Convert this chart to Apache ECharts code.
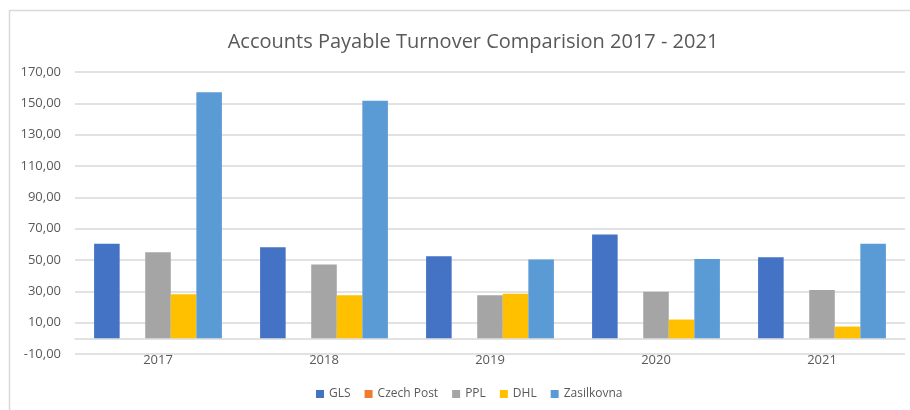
<!DOCTYPE html>
<html>
<head>
<meta charset="utf-8">
<script src="https://cdn.jsdelivr.net/npm/echarts@6/dist/echarts.min.js"></script>
<style>
  html, body { margin: 0; padding: 0; background: #fff; }
  #chart { width: 910px; height: 410px; }
</style>
</head>
<body>
<div id="chart"></div>
<script>
// data
const years = ['2017', '2018', '2019', '2020', '2021']
const gls = [60.3, 58.2, 52.4, 66.2, 51.8]
const czechPost = [0, 0, 0, 0, 0]
const ppl = [55.0, 47.1, 27.5, 29.8, 30.9]
const dhl = [28.2, 27.5, 28.4, 12.0, 7.5]
const zasilkovna = [157.0, 151.7, 50.3, 50.7, 60.3]

const seriesNames = ['GLS', 'Czech Post', 'PPL', 'DHL', 'Zasilkovna']
const seriesData = [gls, czechPost, ppl, dhl, zasilkovna]
const colors = ['#4472C4', '#ED7D31', '#A5A5A5', '#FFC000', '#5B9BD5']

const textColor = '#595959'
const fontFamily = '"Open Sans", "Liberation Sans", sans-serif'

const chart = echarts.init(document.getElementById('chart'))

const option = {
  animation: false,
  color: colors,
  textStyle: { fontFamily: fontFamily },
  title: {
    text: 'Accounts Payable Turnover Comparision 2017 - 2021',
    left: 468,
    top: 27,
    textAlign: 'center',
    textStyle: { fontSize: 20, fontWeight: 'normal', color: textColor, fontFamily: fontFamily }
  },
  // chart area border (only top/left edges are in view)
  graphic: [
    {
      type: 'rect',
      shape: { x: 9.5, y: 10.5, width: 920, height: 420 },
      style: { fill: 'none', stroke: '#d9d9d9', lineWidth: 1.5 },
      silent: true
    }
  ],
  legend: {
    data: seriesNames,
    left: 311,
    top: 383,
    itemWidth: 8,
    itemHeight: 8,
    itemGap: 14,
    icon: 'rect',
    textStyle: { fontSize: 12, color: textColor, fontFamily: fontFamily }
  },
  grid: {
    left: 75,
    right: 5,
    top: 72,
    height: 282
  },
  xAxis: {
    type: 'category',
    data: years,
    axisLine: { onZero: true, lineStyle: { color: '#d9d9d9', width: 1.5 } },
    axisTick: { show: false },
    axisLabel: { color: textColor, fontSize: 13, margin: 0 }
  },
  yAxis: {
    type: 'value',
    min: -10,
    max: 170,
    interval: 20,
    axisLine: { show: false },
    axisTick: { show: false },
    splitLine: { lineStyle: { color: '#d9d9d9', width: 1.5 } },
    axisLabel: {
      color: textColor,
      fontSize: 13,
      margin: 14,
      formatter: v => v.toFixed(2).replace('.', ',')
    }
  },
  series: seriesNames.map((name, i) => ({
    name: name,
    type: 'bar',
    data: seriesData[i],
    barGap: '0%',
    barCategoryGap: '23%'
  }))
}

chart.setOption(option)
</script>
</body>
</html>
